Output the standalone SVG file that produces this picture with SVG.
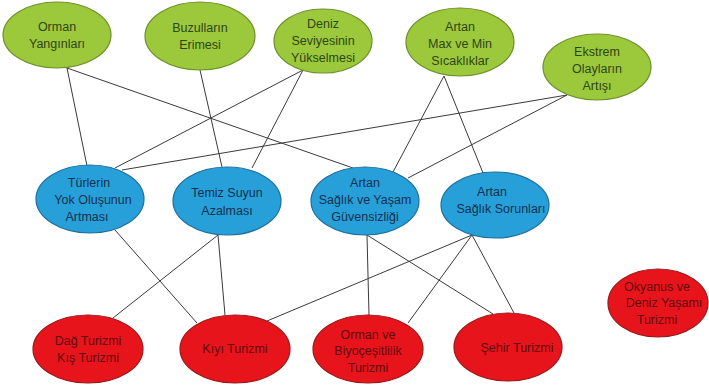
<svg xmlns="http://www.w3.org/2000/svg" width="709" height="388" viewBox="0 0 709 388">
<style>
.g ellipse{fill:#9cc93b;stroke:#6e8f2a;stroke-width:1.2}
.b ellipse{fill:#27a0da;stroke:#1d6f9c;stroke-width:1.2}
.r ellipse{fill:#e8141c;stroke:#9a1a1a;stroke-width:1.2}
text{font-family:"Liberation Sans",Arial,sans-serif;font-size:12.5px;text-anchor:middle}
.g text{fill:#2f4419}
.b text{fill:#15304e}
.r text{fill:#5e0a0a}
#connectors line{stroke:#3a3a3a;stroke-width:1}
</style>
<rect width="709" height="388" fill="#fff"/>
<g id="connectors">
<line x1="67" y1="68" x2="87" y2="166"/>
<line x1="67" y1="68" x2="353" y2="168"/>
<line x1="200" y1="70" x2="222" y2="167"/>
<line x1="303" y1="70" x2="115" y2="168"/>
<line x1="303" y1="70" x2="252" y2="168"/>
<line x1="444" y1="76" x2="393" y2="172"/>
<line x1="444" y1="76" x2="483" y2="173"/>
<line x1="567" y1="95" x2="122" y2="170"/>
<line x1="567" y1="95" x2="408" y2="178"/>
<line x1="115" y1="230" x2="197" y2="323"/>
<line x1="218" y1="235" x2="113" y2="318"/>
<line x1="218" y1="235" x2="225" y2="315"/>
<line x1="367" y1="235" x2="369" y2="315"/>
<line x1="367" y1="235" x2="493" y2="314"/>
<line x1="472" y1="235" x2="267" y2="321"/>
<line x1="472" y1="235" x2="408" y2="323"/>
<line x1="472" y1="235" x2="514" y2="313"/>
</g>
<g id="orman-yanginlari" class="g"><ellipse cx="57" cy="35" rx="54" ry="33"/><text x="57" y="31">Orman</text><text x="57" y="48">Yangınları</text></g>
<g id="buzullarin-erimesi" class="g"><ellipse cx="200" cy="36" rx="55" ry="34"/><text x="200" y="32">Buzulların</text><text x="200" y="49">Erimesi</text></g>
<g id="deniz-seviyesi" class="g"><ellipse cx="323" cy="41" rx="49" ry="32"/><text x="323" y="28">Deniz</text><text x="323" y="45">Seviyesinin</text><text x="323" y="62">Yükselmesi</text></g>
<g id="artan-max-min" class="g"><ellipse cx="460" cy="42" rx="54" ry="34"/><text x="460" y="31">Artan</text><text x="460" y="48">Max ve Min</text><text x="460" y="65">Sıcaklıklar</text></g>
<g id="ekstrem-olaylar" class="g"><ellipse cx="597" cy="67" rx="54" ry="33"/><text x="597" y="56">Ekstrem</text><text x="597" y="73">Olayların</text><text x="597" y="90">Artışı</text></g>
<g id="turlerin-yok-olusu" class="b"><ellipse cx="90" cy="199" rx="54" ry="34"/><text x="89" y="187">Türlerin</text><text x="93" y="204">Yok Oluşunun</text><text x="87" y="221">Artması</text></g>
<g id="temiz-suyun-azalmasi" class="b"><ellipse cx="227" cy="201" rx="54" ry="34"/><text x="227" y="197">Temiz Suyun</text><text x="227" y="215">Azalması</text></g>
<g id="saglik-yasam-guvensizligi" class="b"><ellipse cx="365" cy="201" rx="54" ry="34"/><text x="365" y="187">Artan</text><text x="365" y="204">Sağlık ve Yaşam</text><text x="365" y="221">Güvensizliği</text></g>
<g id="saglik-sorunlari" class="b"><ellipse cx="495" cy="205" rx="54" ry="33"/><text x="492" y="196">Artan</text><text x="501" y="213">Sağlık Sorunları</text></g>
<g id="dag-kis-turizmi" class="r"><ellipse cx="88" cy="349" rx="55" ry="34"/><text x="88" y="345">Dağ Turizmi</text><text x="88" y="362">Kış Turizmi</text></g>
<g id="kiyi-turizmi" class="r"><ellipse cx="235" cy="349" rx="55" ry="34"/><text x="235" y="353">Kıyı Turizmi</text></g>
<g id="orman-biyocesitlilik" class="r"><ellipse cx="368" cy="349" rx="55" ry="34"/><text x="368" y="339">Orman ve</text><text x="368" y="355">Biyoçeşitlilik</text><text x="368" y="372">Turizmi</text></g>
<g id="sehir-turizmi" class="r"><ellipse cx="508" cy="347" rx="54" ry="34"/><text x="517" y="352">Şehir Turizmi</text></g>
<g id="okyanus-deniz-yasami" class="r"><ellipse cx="658" cy="303" rx="50" ry="34"/><text x="657" y="291">Okyanus ve</text><text x="664" y="307">Deniz Yaşamı</text><text x="657" y="324">Turizmi</text></g>
</svg>
